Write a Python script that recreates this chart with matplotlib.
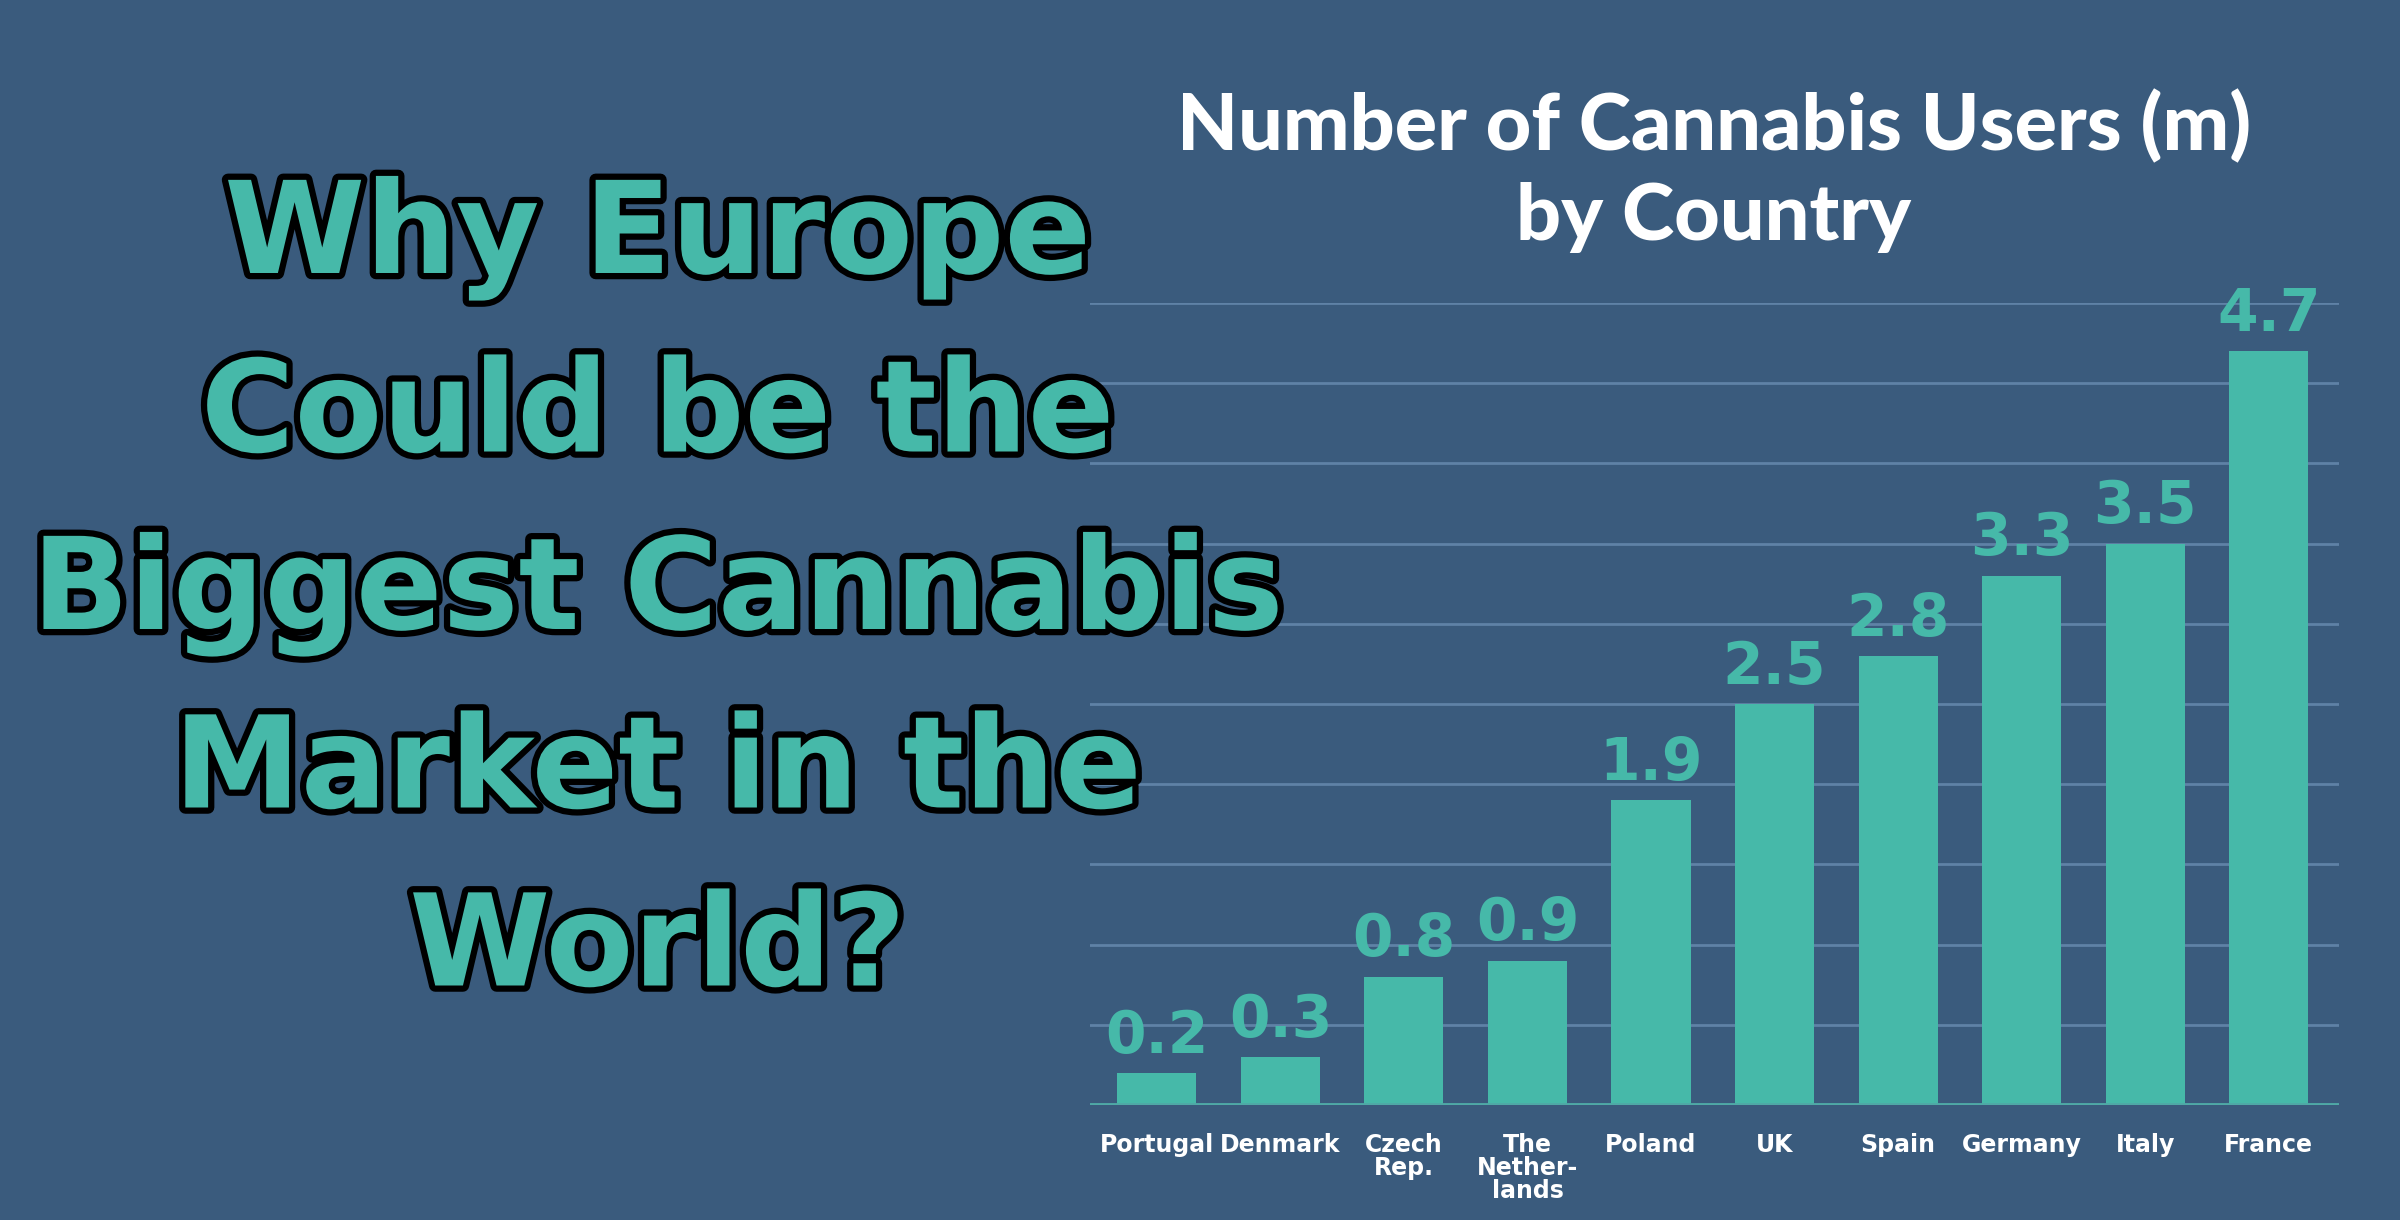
import matplotlib
matplotlib.use("Agg")
import matplotlib.pyplot as plt
import matplotlib.patheffects as pe
import numpy as np

# data
countries = ["Portugal", "Denmark", "Czech\nRep.", "The\nNether-\nlands", "Poland",
             "UK", "Spain", "Germany", "Italy", "France"]
users = [0.2, 0.3, 0.8, 0.9, 1.9, 2.5, 2.8, 3.3, 3.5, 4.7]
value_labels = ["0.2", "0.3", "0.8", "0.9", "1.9", "2.5", "2.8", "3.3", "3.5", "4.7"]
headline = ["Why Europe", "Could be the", "Biggest Cannabis", "Market in the", "World?"]
chart_title = ["Number of Cannabis Users (m)", "by Country"]

bg = "#3a5b7d"
teal = "#46b9a9"
grid_col = "#5f82a6"

fig = plt.figure(figsize=(24, 12.2), dpi=100, facecolor=bg)

ax = fig.add_axes([0.454, 0.0943, 0.5206, 0.6573])
ax.set_facecolor(bg)
x = np.arange(len(countries))
ax.bar(x, users, width=0.64, color=teal, zorder=3)
ax.set_xlim(-0.545, len(countries) - 1 + 0.57)
ax.set_ylim(0, 5.0)
for yv in np.arange(0.5, 5.01, 0.5):
    ax.axhline(yv, color=grid_col, lw=2, zorder=1)
ax.axhline(0, color="#4fa9a6", lw=3.5, zorder=4)
for s in ax.spines.values():
    s.set_visible(False)
ax.set_yticks([])
ax.set_xticks(x)
ax.set_xticklabels(countries, color="white", fontsize=17, fontweight="bold",
                   family="DejaVu Sans", linespacing=0.95, va="top")
ax.tick_params(axis="x", length=0, pad=20)

for xi, v, lab in zip(x, users, value_labels):
    ax.annotate(lab, (xi, v), xytext=(0, 6), textcoords="offset points",
                ha="center", va="bottom", color=teal, fontsize=42, fontweight="bold",
                family="DejaVu Sans", annotation_clip=False)

# chart title
for ty, line in zip([0.897, 0.822], chart_title):
    fig.text(0.714, ty, line, ha="center", va="center", color="white",
             fontsize=57, fontweight="black", family=["Lato", "DejaVu Sans"])

# big headline on the left
y0 = 1 - 238 / 1220
step = 178 / 1220
for i, line in enumerate(headline):
    fig.text(0.274, y0 - i * step, line, ha="center", va="center", color=teal,
             fontsize=92, fontweight="heavy", family=["DejaVu Sans"],
             path_effects=[pe.withStroke(linewidth=9, foreground="black")])

fig.savefig("out.png", dpi=100, facecolor=bg)
